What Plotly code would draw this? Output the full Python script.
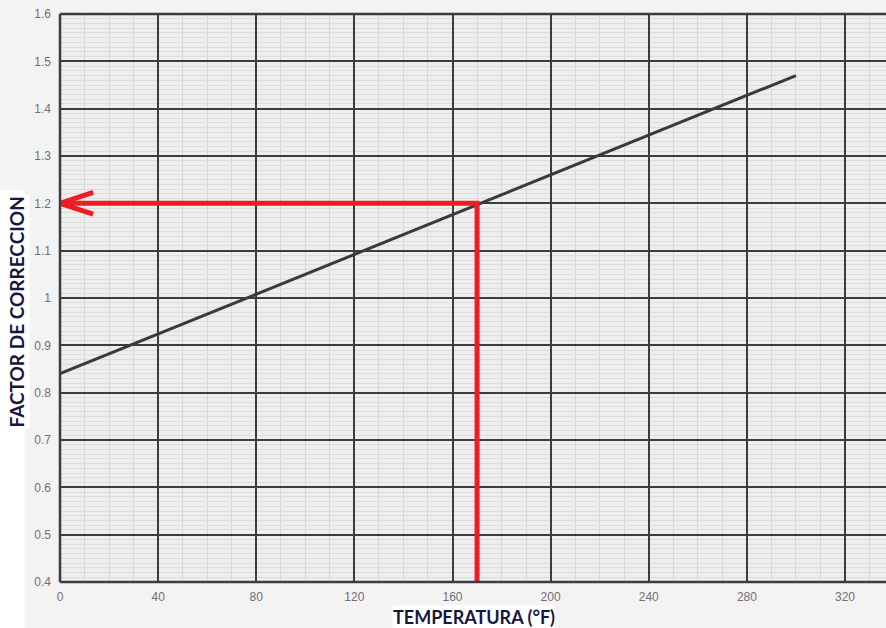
import plotly.graph_objects as go

# Correction factor vs. temperature (straight-line chart)
temperature_f = [0, 300]
correction_factor = [0.84, 1.47]

# Reading taken off the chart
target_temperature = 170
target_factor = 1.2

x_ticks = [0, 40, 80, 120, 160, 200, 240, 280, 320]
y_ticks = [0.4, 0.5, 0.6, 0.7, 0.8, 0.9, 1.0, 1.1, 1.2, 1.3, 1.4, 1.5, 1.6]

X_MAX = 336.7
Y_MIN, Y_MAX = 0.4, 1.6
RED = "#ee1c24"
MAJOR = "#3c3c3c"
TITLE_COLOR = "#16163f"

fig = go.Figure()

# correction line
fig.add_trace(go.Scatter(
    x=temperature_f, y=correction_factor, mode="lines",
    line=dict(color="#3a3a3a", width=3), hoverinfo="skip", showlegend=False,
))

# read-off path: up from the temperature, across to the factor axis
fig.add_trace(go.Scatter(
    x=[target_temperature, target_temperature, 0],
    y=[Y_MIN, target_factor, target_factor],
    mode="lines", line=dict(color=RED, width=5),
    hoverinfo="skip", showlegend=False, cliponaxis=False,
))

# open arrowhead at the factor axis
head_dx = 13.5
head_dy = 0.023
fig.add_trace(go.Scatter(
    x=[head_dx, 0, head_dx],
    y=[target_factor + head_dy, target_factor, target_factor - head_dy],
    mode="lines", line=dict(color=RED, width=5),
    hoverinfo="skip", showlegend=False, cliponaxis=False,
))

frame = dict(color=MAJOR, width=2.5)

fig.update_layout(
    width=886, height=628,
    margin=dict(l=60, r=0, t=14, b=46),
    paper_bgcolor="#f3f3f3",
    plot_bgcolor="#eeeeee",
    font=dict(family="Arial, Liberation Sans, sans-serif", size=12, color="#707070"),
    xaxis=dict(
        range=[0, X_MAX], tickvals=x_ticks, ticktext=[str(v) for v in x_ticks],
        showgrid=True, gridcolor=MAJOR, gridwidth=2,
        zeroline=False, showline=False,
        ticks="", ticklabelstandoff=6,
        minor=dict(dtick=10, showgrid=True, gridcolor="#d6d6d6", gridwidth=1),
    ),
    yaxis=dict(
        range=[Y_MIN, Y_MAX], tickvals=y_ticks,
        ticktext=[("%g" % v) for v in y_ticks],
        showgrid=True, gridcolor=MAJOR, gridwidth=2,
        zeroline=False, showline=False,
        ticks="", ticklabelstandoff=8,
        minor=dict(dtick=0.01, showgrid=True, gridcolor="#dddddd", gridwidth=0.6),
    ),
    shapes=[
        # white strip behind the vertical title
        dict(type="rect", xref="paper", yref="paper",
             x0=-0.0726, x1=-0.043, y0=-0.081, y1=0.69,
             fillcolor="#ffffff", line=dict(width=0), layer="below"),
        # chart frame
        dict(type="line", xref="paper", yref="paper", x0=0, x1=0, y0=0, y1=1,
             line=frame, layer="above"),
        dict(type="line", xref="paper", yref="paper", x0=0, x1=1, y0=0, y1=0,
             line=frame, layer="above"),
        dict(type="line", xref="paper", yref="paper", x0=0, x1=1, y0=1, y1=1,
             line=frame, layer="above"),
    ],
    annotations=[
        dict(text="<b>TEMPERATURA (°F)</b>", xref="paper", yref="paper",
             x=0.501, y=-0.0615, xanchor="center", yanchor="middle",
             showarrow=False, bgcolor="#ffffff", borderpad=0,
             font=dict(family="Lato, Open Sans, sans-serif", size=18, color=TITLE_COLOR)),
        dict(text="<b>FACTOR DE CORRECCION</b>", xref="paper", yref="paper",
             x=-0.053, y=0.475, xanchor="center", yanchor="middle",
             textangle=-90, showarrow=False, bgcolor="#ffffff", borderpad=1,
             font=dict(family="Lato, Open Sans, sans-serif", size=19, color=TITLE_COLOR)),
    ],
)

fig.write_html("out.html")
